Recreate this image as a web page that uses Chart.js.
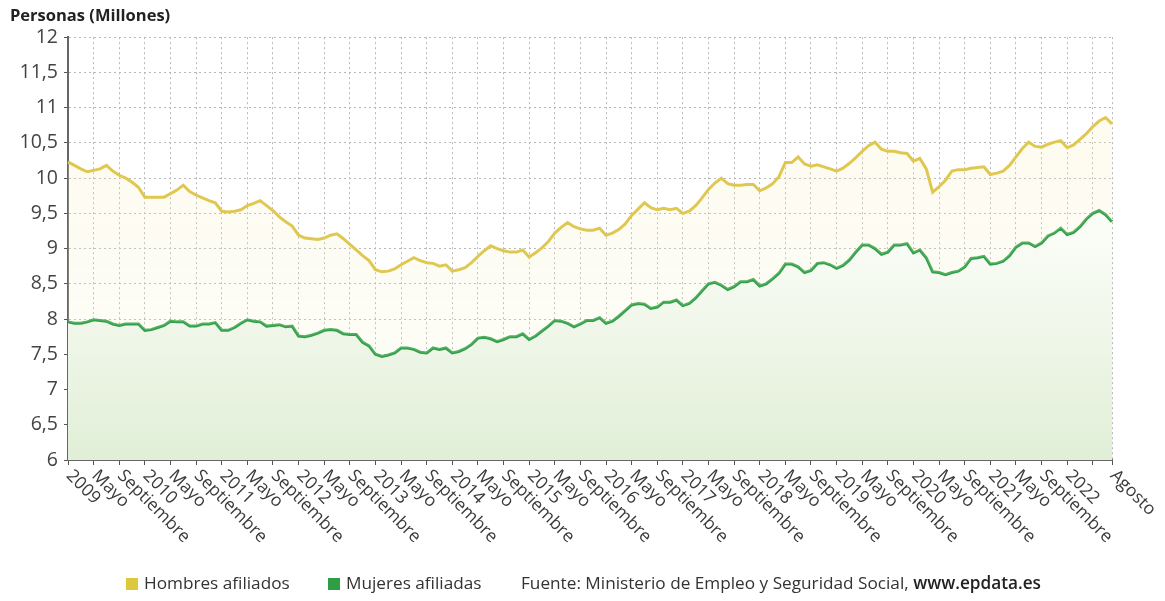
<!DOCTYPE html>
<html lang="es">
<head>
<meta charset="utf-8">
<title>Afiliados a la Seguridad Social por sexo</title>
<script src="https://cdn.jsdelivr.net/npm/chart.js@4.4.1/dist/chart.umd.min.js"></script>
<style>
  html, body { margin: 0; padding: 0; background: #fff; }
  #caja { position: relative; width: 1165px; height: 601px; }
  #grafico { position: absolute; left: 0; top: 0; }
  .leyenda { position: absolute; top: 571px; font: 17.2px "Open Sans", sans-serif; color: #333; white-space: nowrap; line-height: 24px; }
  .cuadro { display: inline-block; width: 12px; height: 12px; margin-right: 6px; vertical-align: -1px; }
  .fuente b { font-weight: 600; color: #222; }
</style>
</head>
<body>
<div id="caja">
  <canvas id="grafico" width="1165" height="601"></canvas>
  <div class="leyenda" style="left:126px"><span class="cuadro" style="background:#e0c83e"></span>Hombres afiliados</div>
  <div class="leyenda" style="left:328px"><span class="cuadro" style="background:#2f9e45"></span>Mujeres afiliadas</div>
  <div class="leyenda fuente" style="left:521px">Fuente: Ministerio de Empleo y Seguridad Social, <b>www.epdata.es</b></div>
</div>
<script>
const nombresMes = ['Enero', 'Febrero', 'Marzo', 'Abril', 'Mayo', 'Junio', 'Julio', 'Agosto', 'Septiembre', 'Octubre', 'Noviembre', 'Diciembre'];

// enero 2009 - agosto 2022, millones de personas
const hombres = [
  10.23, 10.18, 10.13, 10.09, 10.11, 10.13, 10.18, 10.10, 10.04, 10.00, 9.94, 9.87,
  9.73, 9.73, 9.73, 9.73, 9.78, 9.83, 9.90, 9.81, 9.76, 9.72, 9.68, 9.65,
  9.53, 9.52, 9.53, 9.55, 9.61, 9.64, 9.68, 9.61, 9.54, 9.45, 9.38, 9.32,
  9.19, 9.15, 9.14, 9.13, 9.15, 9.19, 9.21, 9.14, 9.06, 8.98, 8.90, 8.83,
  8.70, 8.67, 8.68, 8.71, 8.77, 8.82, 8.87, 8.83, 8.80, 8.79, 8.75, 8.77,
  8.68, 8.70, 8.73, 8.80, 8.89, 8.97, 9.04, 9.00, 8.97, 8.95, 8.95, 8.98,
  8.88, 8.94, 9.01, 9.10, 9.22, 9.30, 9.37, 9.31, 9.28, 9.26, 9.26, 9.29,
  9.19, 9.22, 9.27, 9.35, 9.47, 9.56, 9.65, 9.58, 9.55, 9.57, 9.55, 9.57,
  9.50, 9.53, 9.61, 9.72, 9.84, 9.93, 10.00, 9.92, 9.90, 9.90, 9.91, 9.91,
  9.82, 9.86, 9.92, 10.02, 10.22, 10.22, 10.30, 10.20, 10.17, 10.19, 10.16, 10.13,
  10.10, 10.14, 10.21, 10.29, 10.38, 10.46, 10.51, 10.41, 10.38, 10.38, 10.36, 10.35,
  10.24, 10.28, 10.13, 9.80, 9.88, 9.97, 10.10, 10.12, 10.12, 10.14, 10.15, 10.16,
  10.05, 10.07, 10.10, 10.18, 10.30, 10.42, 10.51, 10.45, 10.44, 10.48, 10.51, 10.53,
  10.43, 10.47, 10.55, 10.63, 10.73, 10.81, 10.86, 10.77
];

const mujeres = [
  7.96, 7.94, 7.94, 7.96, 7.99, 7.98, 7.97, 7.93, 7.91, 7.93, 7.93, 7.93,
  7.84, 7.85, 7.88, 7.91, 7.97, 7.96, 7.96, 7.90, 7.90, 7.93, 7.93, 7.95,
  7.84, 7.84, 7.88, 7.94, 7.99, 7.97, 7.96, 7.90, 7.91, 7.92, 7.89, 7.90,
  7.76, 7.75, 7.77, 7.80, 7.84, 7.85, 7.84, 7.79, 7.78, 7.78, 7.67, 7.62,
  7.50, 7.47, 7.49, 7.52, 7.59, 7.59, 7.57, 7.53, 7.52, 7.59, 7.57, 7.59,
  7.52, 7.54, 7.58, 7.64, 7.73, 7.74, 7.72, 7.68, 7.71, 7.75, 7.75, 7.79,
  7.71, 7.76, 7.83, 7.90, 7.98, 7.97, 7.94, 7.89, 7.93, 7.98, 7.98, 8.02,
  7.94, 7.97, 8.04, 8.12, 8.20, 8.22, 8.21, 8.15, 8.17, 8.24, 8.24, 8.27,
  8.19, 8.22, 8.30, 8.40, 8.50, 8.52, 8.48, 8.42, 8.46, 8.53, 8.53, 8.56,
  8.47, 8.50, 8.57, 8.65, 8.78, 8.78, 8.74, 8.66, 8.69, 8.79, 8.80, 8.77,
  8.72, 8.76, 8.84, 8.95, 9.05, 9.05, 9.00, 8.92, 8.95, 9.05, 9.05, 9.07,
  8.94, 8.98, 8.87, 8.67, 8.66, 8.63, 8.66, 8.68, 8.74, 8.86, 8.87, 8.89,
  8.78, 8.79, 8.82, 8.90, 9.02, 9.08, 9.08, 9.03, 9.08, 9.18, 9.22, 9.29,
  9.20, 9.23, 9.31, 9.42, 9.50, 9.54, 9.48, 9.38
];

// etiquetas del eje horizontal, una cada cuatro meses y la del último dato
const etiquetasEje = [
  '2009', 'Mayo', 'Septiembre', '2010', 'Mayo', 'Septiembre', '2011', 'Mayo', 'Septiembre',
  '2012', 'Mayo', 'Septiembre', '2013', 'Mayo', 'Septiembre', '2014', 'Mayo', 'Septiembre',
  '2015', 'Mayo', 'Septiembre', '2016', 'Mayo', 'Septiembre', '2017', 'Mayo', 'Septiembre',
  '2018', 'Mayo', 'Septiembre', '2019', 'Mayo', 'Septiembre', '2020', 'Mayo', 'Septiembre',
  '2021', 'Mayo', 'Septiembre', '2022', '', 'Agosto'
];

const categorias = hombres.map((_, i) => nombresMes[i % 12] + ' ' + (2009 + Math.floor(i / 12)));
const posicionesEje = etiquetasEje.map((_, k) => k < etiquetasEje.length - 1 ? k * 4 : categorias.length - 1);
const conLinea = new Set(posicionesEje);

const fuente = '"Open Sans", sans-serif';
Chart.defaults.font.family = fuente;

// etiquetas giradas hacia abajo, empezando en cada marca
const etiquetasGiradas = {
  id: 'etiquetasGiradas',
  afterDraw(chart) {
    const escala = chart.scales.x;
    const ctx = chart.ctx;
    ctx.save();
    ctx.font = '17.5px ' + fuente;
    ctx.fillStyle = '#3a3a3a';
    ctx.textAlign = 'left';
    ctx.textBaseline = 'middle';
    posicionesEje.forEach((pos, k) => {
      if (!etiquetasEje[k]) return;
      ctx.save();
      ctx.translate(escala.getPixelForValue(pos) + 1, escala.top + 13);
      ctx.rotate(Math.PI / 4);
      ctx.fillText(etiquetasEje[k], 0, 0);
      ctx.restore();
    });
    ctx.restore();
  }
};

function degradado(chart, arriba, abajo, yArriba) {
  const area = chart.chartArea;
  if (!area) return abajo;
  const g = chart.ctx.createLinearGradient(0, yArriba(area), 0, area.bottom);
  g.addColorStop(0, arriba);
  g.addColorStop(1, abajo);
  return g;
}

const grafico = new Chart(document.getElementById('grafico'), {
  type: 'line',
  data: {
    labels: categorias,
    datasets: [
      {
        label: 'Hombres afiliados',
        data: hombres,
        borderColor: '#e0c850',
        borderWidth: 3,
        pointRadius: 0,
        tension: 0,
        fill: '+1',
        backgroundColor: c => degradado(c.chart, 'rgba(250,240,190,0.22)', 'rgba(240,245,215,0.15)', a => a.top + 120)
      },
      {
        label: 'Mujeres afiliadas',
        data: mujeres,
        borderColor: '#31a04a',
        borderWidth: 3,
        pointRadius: 0,
        tension: 0,
        fill: 'start',
        backgroundColor: c => degradado(c.chart, 'rgba(250,252,246,1)', 'rgba(225,239,215,1)', a => a.top + 200)
      }
    ]
  },
  options: {
    responsive: false,
    animation: false,
    layout: { padding: { left: 10, right: 53, top: 0, bottom: 0 } },
    plugins: {
      legend: { display: false },
      tooltip: { enabled: false },
      title: {
        display: true,
        text: 'Personas (Millones)',
        align: 'start',
        color: '#222',
        font: { size: 16.5, weight: 'bold', lineHeight: 1.1 },
        padding: { top: 7, bottom: 12 }
      }
    },
    scales: {
      x: {
        afterFit: s => { s.height = 141; },
        ticks: { display: false, autoSkip: false },
        grid: {
          color: c => conLinea.has(c.index) ? '#b8b8b8' : 'rgba(0,0,0,0)',
          tickColor: c => conLinea.has(c.index) ? '#555' : 'rgba(0,0,0,0)',
          tickLength: 5,
          lineWidth: 1
        },
        border: { color: '#666', width: 2, dash: [2, 3] }
      },
      y: {
        min: 6,
        max: 12,
        afterFit: s => { s.width = 58; },
        ticks: {
          stepSize: 0.5,
          color: '#444',
          font: { size: 19.5 },
          padding: 6,
          callback: v => String(v).replace('.', ',')
        },
        grid: { color: '#b8b8b8', tickColor: '#555', tickLength: 4, lineWidth: 1 },
        border: { color: '#666', width: 2, dash: [2, 3] }
      }
    }
  },
  plugins: [etiquetasGiradas]
});
</script>
</body>
</html>
